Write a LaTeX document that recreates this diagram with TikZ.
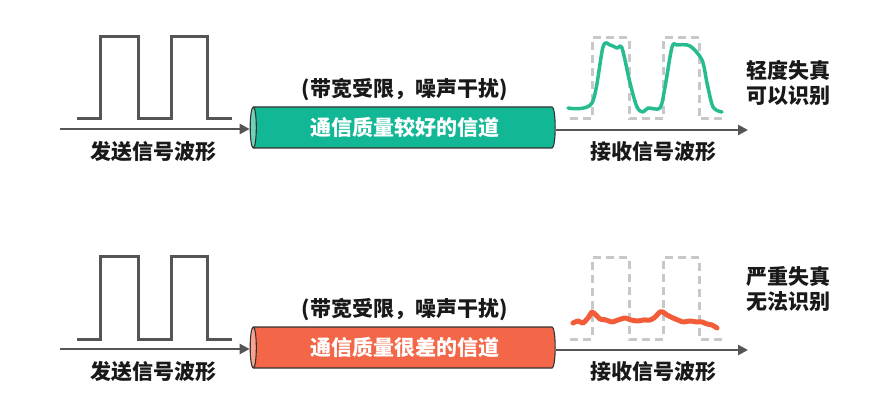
\documentclass[tikz,border=0pt]{standalone}
\usepackage{fontspec}
\newfontfamily\cjk{Noto Sans CJK SC}
\usetikzlibrary{shapes.geometric, arrows.meta, positioning}
\definecolor{wavegray}{RGB}{85,85,85}
\definecolor{dashgray}{RGB}{200,200,200}
\definecolor{goodgreen}{RGB}{18,184,150}
\definecolor{goodlight}{RGB}{110,210,185}
\definecolor{badred}{RGB}{244,102,72}
\definecolor{badlight}{RGB}{249,162,142}
\definecolor{curvegreen}{RGB}{38,188,144}
\definecolor{curvered}{RGB}{242,92,56}

\begin{document}
\begin{tikzpicture}[
    x=1pt, y=-1pt,
    label/.style={font=\cjk\bfseries\fontsize{21}{25}\selectfont, text=black!90, align=center, inner sep=0pt},
    channel/.style={cylinder, shape border rotate=180, aspect=0.3, draw=black!80, line width=1.1pt, cylinder uses custom fill, minimum height=305pt, minimum width=41pt, inner sep=0pt, font=\cjk\bfseries\fontsize{21}{25}\selectfont, text=white},
    axis/.style={-{Triangle[length=10pt,width=10pt]}, line width=2.5pt, draw=wavegray},
    sent/.style={line width=3pt, draw=wavegray, line join=miter},
    ideal/.style={line width=3pt, draw=dashgray, dash pattern=on 8pt off 5pt},
    rcvd/.style={line width=3.5pt, line join=round, line cap=round}
]
    \useasboundingbox (0,0) rectangle (874,419);

    % good channel
    \node[channel, cylinder end fill=goodlight, cylinder body fill=goodgreen] (chan1) at (404.5,127.5) {通信质量较好的信道};
    \node[label, above=5pt of chan1] (cond1) {(带宽受限，噪声干扰)};
    \coordinate (s1) at (60,129);
    \coordinate (r1) at (748,130);
    \draw[axis] (s1) -- (s1 -| chan1.west);
    \draw[axis] (chan1.east |- r1) -- (r1);
    \node[label] (send1) at (153,152) {发送信号波形};
    \node[label] (recv1) at (653,152) {接收信号波形};
    \node[label] (note1) at (788,82.5) {轻度失真\\可以识别};
    \draw[sent] (77,119) -- (100,119) -- (100,37) -- (138,37) -- (138,119) -- (171,119) -- (171,37) -- (207,37) -- (207,119) -- (232,119);
    \draw[ideal] (570,119) -- (592,119) -- (592,38) -- (629,38) -- (629,119) -- (663,119) -- (663,38) -- (699,38) -- (699,119) -- (722,119);
    \draw[rcvd, curvegreen] plot[smooth, tension=0.5] coordinates {(568,108) (592,103) (603,47) (610,45) (617,48) (622,48) (630,83) (637,107) (643,112) (648,108) (660,108) (665,87) (672,47) (677,45) (690,46) (702,60) (707,83) (713,107) (722,112)};

    % poor channel
    \node[channel, cylinder end fill=badlight, cylinder body fill=badred] (chan2) at (404.5,347.5) {通信质量很差的信道};
    \node[label, above=5pt of chan2] (cond2) {(带宽受限，噪声干扰)};
    \coordinate (s2) at (60,349);
    \coordinate (r2) at (748,350);
    \draw[axis] (s2) -- (s2 -| chan2.west);
    \draw[axis] (chan2.east |- r2) -- (r2);
    \node[label] (send2) at (153,372) {发送信号波形};
    \node[label] (recv2) at (653,372) {接收信号波形};
    \node[label] (note2) at (788,289.5) {严重失真\\无法识别};
    \draw[sent] (77,339) -- (100,339) -- (100,257) -- (138,257) -- (138,339) -- (171,339) -- (171,257) -- (207,257) -- (207,339) -- (232,339);
    \draw[ideal] (570,339) -- (592,339) -- (592,258) -- (629,258) -- (629,339) -- (663,339) -- (663,258) -- (699,258) -- (699,339) -- (722,339);
    \draw[rcvd, line width=5pt, curvered] plot[smooth, tension=0.3] coordinates {(573,323) (578,321) (583,323) (588,318) (592,312) (596,315) (600,319) (606,320) (612,322) (618,320) (625,318) (631,320) (637,321) (644,320) (650,320) (654,318) (657,315) (660,312) (663,312) (667,315) (673,318) (678,320) (683,322) (690,321) (697,322) (702,322) (707,324) (712,325) (717,328)};
\end{tikzpicture}
\end{document}
